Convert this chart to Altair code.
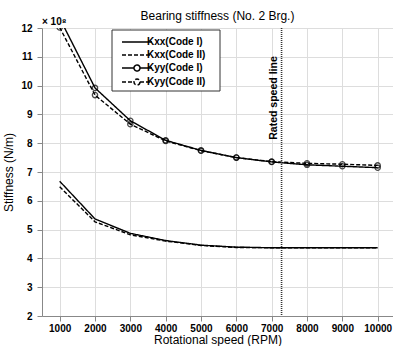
import altair as alt
import pandas as pd

rpm = [1000, 2000, 3000, 4000, 5000, 6000, 7000, 8000, 9000, 10000]
kxx_code1 = [6.68, 5.37, 4.87, 4.62, 4.46, 4.39, 4.37, 4.37, 4.37, 4.37]
kxx_code2 = [6.49, 5.27, 4.82, 4.60, 4.45, 4.38, 4.37, 4.37, 4.37, 4.37]
kyy_code1 = [12.34, 9.92, 8.78, 8.10, 7.75, 7.50, 7.35, 7.25, 7.20, 7.15]
kyy_code2 = [12.02, 9.67, 8.66, 8.08, 7.74, 7.50, 7.36, 7.30, 7.27, 7.23]
series_names = ["Kxx(Code I)", "Kxx(Code II)", "Kyy(Code I)", "Kyy(Code II)"]
rated_speed = [7280]
x_ticks = [1000, 2000, 3000, 4000, 5000, 6000, 7000, 8000, 9000, 10000]
y_ticks = [2, 3, 4, 5, 6, 7, 8, 9, 10, 11, 12]

rows = []
for name, vals in zip(series_names, [kxx_code1, kxx_code2, kyy_code1, kyy_code2]):
    for r, v in zip(rpm, vals):
        rows.append({"series": name, "rpm": r, "k": v})
df = pd.DataFrame(rows)

FONT = "Liberation Sans"

xs = alt.Scale(domain=[500, 10434], nice=False, zero=False)
ys = alt.Scale(domain=[2, 12], nice=False, zero=False)

AX = dict(labelFontWeight="bold", titleFontWeight="normal", labelFontSize=10, titleFontSize=12,
          labelFont=FONT, titleFont=FONT, labelColor="black", titleColor="black")
x_enc = alt.X("rpm:Q", scale=xs, title="Rotational speed (RPM)",
              axis=alt.Axis(values=x_ticks, format="d", labelPadding=2, titlePadding=1, **AX))
y_enc = alt.Y("k:Q", scale=ys, title="Stiffness (N/m)",
              axis=alt.Axis(values=y_ticks, format="d", labelPadding=5, titlePadding=5, **AX))

dash_scale = alt.Scale(domain=series_names, range=[[1, 0], [4, 2], [1, 0], [4, 2]])
line_path = "M-3,0H3"
circ_path = "M-3,0H-0.6M0.6,0H3M0.6,0A0.6,0.6,0,1,1,-0.6,0A0.6,0.6,0,1,1,0.6,0"
shape_scale = alt.Scale(domain=series_names, range=[line_path, line_path, circ_path, circ_path])

legend = alt.Legend(title=None, orient="none", legendX=89, legendY=8,
                    labelFontWeight="bold")

# white framed box behind the legend entries
box = alt.Chart(pd.DataFrame({"b": [0]})).mark_rect(
    fill="white", stroke="#333", strokeWidth=1
).encode(x=alt.value(70), x2=alt.value(178), y=alt.value(2), y2=alt.value(63))

lines = alt.Chart(df).mark_line(color="black", strokeWidth=1.4, clip=True).encode(
    x=x_enc, y=y_enc,
    strokeDash=alt.StrokeDash("series:N", scale=dash_scale, legend=legend),
    detail="series:N",
)

legend_layer = alt.Chart(df).mark_point(filled=False, color="black", size=0).encode(
    x=x_enc, y=y_enc,
    shape=alt.Shape("series:N", scale=shape_scale, legend=legend),
    strokeDash=alt.StrokeDash("series:N", scale=dash_scale, legend=legend),
)

points = alt.Chart(df).transform_filter(
    "indexof(datum.series, 'Kyy') === 0"
).mark_point(shape="circle", filled=False, color="black", size=28, strokeWidth=1.3, clip=True).encode(
    x=x_enc, y=y_enc,
)

rated_df = pd.DataFrame({"rpm": rated_speed, "label": ["Rated speed line"]})
rule = alt.Chart(rated_df).mark_rule(color="#333", strokeWidth=1.6, strokeDash=[1, 1]).encode(
    x=x_enc
)
rated_text = alt.Chart(rated_df).mark_text(
    angle=270, fontSize=10.5, fontWeight="bold", font=FONT, align="center", baseline="bottom", dy=-3
).encode(x=x_enc, y=alt.value(70), text="label:N")

exp_text = alt.Chart(pd.DataFrame({"t": ["× 10⁸"]})).mark_text(
    align="left", baseline="bottom", fontSize=10, fontWeight="bold", font=FONT, dy=-1
).encode(x=alt.value(0), y=alt.value(0), text="t:N")

chart = alt.layer(box, lines, legend_layer, points, rule, rated_text, exp_text).properties(
    width=351, height=288,
    title=alt.Title("Bearing stiffness (No. 2 Brg.)", fontSize=12, fontWeight="normal",
                    font=FONT, offset=-9, anchor="middle", frame="group"),
    autosize=alt.AutoSizeParams(type="none"),
    padding={"left": 42, "top": 28, "right": 0, "bottom": 30},
).configure_view(stroke="black", strokeWidth=1.2).configure_axis(
    grid=True, gridColor="#444", gridDash=[1.5, 2], gridWidth=1, gridOpacity=1,
    ticks=False, labelOverlap=False,
    domainColor="black", domainWidth=1.2,
).configure_legend(
    symbolStrokeWidth=1.4, symbolOpacity=1,
    symbolStrokeColor="black", symbolFillColor="transparent",
    labelFontSize=11, labelFontWeight="bold", labelFont=FONT, labelColor="black",
    rowPadding=4.5, labelOffset=33, padding=4,
).configure(background="white")

chart.save("out.html", embed_options={"renderer": "svg", "actions": False})
